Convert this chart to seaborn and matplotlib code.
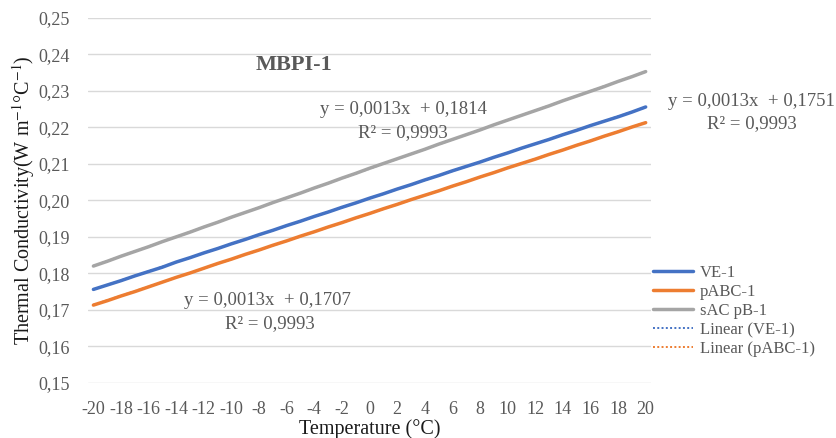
import numpy as np
import pandas as pd
import matplotlib
matplotlib.use("Agg")
import matplotlib.pyplot as plt
import seaborn as sns

# data
temperature = list(range(-20, 21))
ve_1 = [0.1756, 0.1768, 0.1780, 0.1793, 0.1805, 0.1817, 0.1831, 0.1843, 0.1856, 0.1868,
        0.1881, 0.1893, 0.1906, 0.1918, 0.1931, 0.1943, 0.1956, 0.1968, 0.1981, 0.1993,
        0.2006, 0.2018, 0.2031, 0.2043, 0.2056, 0.2068, 0.2081, 0.2093, 0.2105, 0.2118,
        0.2130, 0.2143, 0.2155, 0.2167, 0.2180, 0.2192, 0.2205, 0.2217, 0.2229, 0.2242,
        0.2256]
pabc_1 = [0.1713, 0.1725, 0.1738, 0.1750, 0.1763, 0.1776, 0.1789, 0.1801, 0.1814, 0.1827,
          0.1839, 0.1852, 0.1864, 0.1877, 0.1889, 0.1902, 0.1914, 0.1927, 0.1939, 0.1952,
          0.1964, 0.1977, 0.1989, 0.2002, 0.2014, 0.2026, 0.2039, 0.2051, 0.2064, 0.2076,
          0.2089, 0.2101, 0.2113, 0.2126, 0.2138, 0.2151, 0.2163, 0.2176, 0.2188, 0.2201,
          0.2213]
sac_pb_1 = [0.1820, 0.1833, 0.1847, 0.1860, 0.1873, 0.1887, 0.1900, 0.1913, 0.1927, 0.1940,
            0.1954, 0.1967, 0.1980, 0.1994, 0.2007, 0.2020, 0.2034, 0.2047, 0.2061, 0.2074,
            0.2088, 0.2101, 0.2114, 0.2127, 0.2140, 0.2154, 0.2167, 0.2180, 0.2193, 0.2207,
            0.2220, 0.2233, 0.2246, 0.2259, 0.2273, 0.2286, 0.2299, 0.2312, 0.2326, 0.2339,
            0.2353]
yticks = [0.15, 0.16, 0.17, 0.18, 0.19, 0.20, 0.21, 0.22, 0.23, 0.24, 0.25]
xticks = list(range(-20, 21, 2))

df = pd.DataFrame({'T': temperature, 'VE-1': ve_1, 'pABC-1': pabc_1, 'sAC pB-1': sac_pb_1})

sns.set_style("white")
plt.rcParams['font.family'] = ['Liberation Serif', 'DejaVu Serif']
plt.rcParams['mathtext.fontset'] = 'stix'

fig = plt.figure(figsize=(8.37, 4.38), dpi=100)
ax = fig.add_axes([0.105, 0.126, 0.673, 0.833])

colors = {'VE-1': '#4472C4', 'pABC-1': '#ED7D31', 'sAC pB-1': '#A5A5A5'}
for name in ['VE-1', 'pABC-1', 'sAC pB-1']:
    sns.lineplot(data=df, x='T', y=name, ax=ax, color=colors[name], lw=2.5, label=name)

# linear trendlines (dotted)
dots = dict(ls=(0, (1, 1.2)), lw=1.4)
sns.regplot(data=df, x='T', y='VE-1', ax=ax, scatter=False, ci=None, color=colors['VE-1'],
            line_kws=dots, label='Linear (VE-1)')
sns.regplot(data=df, x='T', y='pABC-1', ax=ax, scatter=False, ci=None, color=colors['pABC-1'],
            line_kws=dots, label='Linear (pABC-1)')
sns.regplot(data=df, x='T', y='sAC pB-1', ax=ax, scatter=False, ci=None, color=colors['sAC pB-1'],
            line_kws=dots)

ax.set_xlim(-20.4, 20.4)
ax.set_ylim(0.15, 0.25)
ax.set_yticks(yticks)
ax.set_yticklabels([f"{v:.2f}".replace('.', ',') for v in yticks])
ax.set_xticks(xticks)
ax.set_xticklabels([str(v) for v in xticks])
ax.tick_params(axis='both', length=0, labelsize=13, labelcolor='#595959')
ax.tick_params(axis='y', pad=13)
ax.tick_params(axis='x', pad=13)
ax.grid(axis='y', color='#D9D9D9', lw=1)
ax.grid(axis='x', visible=False)
for s in ax.spines.values():
    s.set_visible(False)

ax.set_xlabel('Temperature (°C)', fontsize=14.5, color='#1a1a1a', labelpad=1)
ax.set_ylabel('Thermal Conductivity(W m$^{-1}$°C$^{-1}$)', fontsize=14.5, color='#1a1a1a', labelpad=1)

# trendline equations
txt = dict(fontsize=13.5, color='#595959', ha='center', va='center')
ax.text(2.45, 0.2248, 'y = 0,0013x  + 0,1814', **txt)
ax.text(2.45, 0.2185, 'R² = 0,9993', **txt)
ax.text(-7.4, 0.1725, 'y = 0,0013x  + 0,1707', **txt)
ax.text(-7.2, 0.1662, 'R² = 0,9993', **txt)
fig.text(751 / 837, 1 - 101 / 438, 'y = 0,0013x  + 0,1751', **txt)
fig.text(752 / 837, 1 - 124 / 438, 'R² = 0,9993', **txt)
ax.text(-5.5, 0.2371, 'MBPI-1', fontsize=16, fontweight='bold', color='#595959', ha='center', va='center')

handles, labels = ax.get_legend_handles_labels()
if ax.get_legend():
    ax.get_legend().remove()
leg = fig.legend(handles, labels, loc='upper left', bbox_to_anchor=(653 / 837, 1 - 265 / 438),
                 frameon=False, fontsize=12, handlelength=2.4, handletextpad=0.4,
                 labelspacing=0.18, borderaxespad=0, borderpad=0)
for t in leg.get_texts():
    t.set_color('#595959')

fig.savefig('out.png', dpi=100)
